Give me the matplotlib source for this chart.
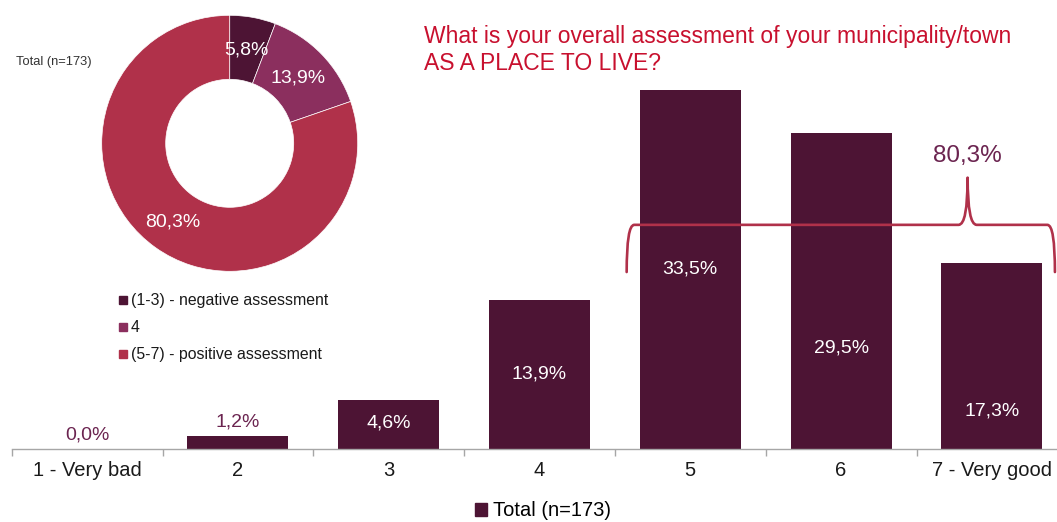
import matplotlib
matplotlib.use("Agg")
import matplotlib.pyplot as plt
from matplotlib.path import Path
from matplotlib.patches import PathPatch, Rectangle

plt.rcParams['font.family'] = ['Liberation Sans', 'DejaVu Sans']

# Distribution of ratings
categories = ['1 - Very bad', '2', '3', '4', '5', '6', '7 - Very good']
shares = [0.0, 1.2, 4.6, 13.9, 33.5, 29.5, 17.3]
# Where each value label sits (fraction of bar height, None = above the bar)
label_frac = [None, None, 0.53, 0.50, 0.50, 0.32, 0.205]

# Grouped assessment for the donut
groups = ['(1-3) - negative assessment', '4', '(5-7) - positive assessment']
group_shares = [5.8, 13.9, 80.3]
positive_total = 80.3

dark = '#4D1434'
mid = '#8B2F5E'
red = '#B0314A'
title_red = '#C8102E'
label_maroon = '#6B2450'

fig = plt.figure(figsize=(10.57, 5.22), dpi=100)
W, H = 1057, 522

# ---- Bar chart ----
step = 150.8
ax = fig.add_axes([11.7 / W, 73 / H, 7 * step / W, 429 / H])
x = list(range(len(categories)))
ax.bar(x, shares, width=0.67, color=dark, edgecolor='none')
ax.set_xlim(-0.5, 6.5)
ax.set_ylim(0, 40)
for s in ['top', 'right', 'left']:
    ax.spines[s].set_visible(False)
ax.spines['bottom'].set_color('#A6A6A6')
ax.spines['bottom'].set_linewidth(1.0)
ax.set_yticks([])
ax.set_xticks(x)
ax.set_xticklabels(categories, fontsize=14.5, color='#1A1A1A')
ax.tick_params(axis='x', which='major', length=0, pad=9)
ax.set_xticks([i - 0.5 for i in range(len(categories) + 1)], minor=True)
ax.tick_params(axis='x', which='minor', length=5, color='#A6A6A6', width=1.0)

def pct(v):
    return f"{v:.1f}%".replace('.', ',')

for xi, v, fr in zip(x, shares, label_frac):
    if fr is None:
        ax.text(xi, v + 0.5, pct(v), ha='center', va='bottom', fontsize=14, color=label_maroon)
    else:
        ax.text(xi, v * fr, pct(v), ha='center', va='center', fontsize=14, color='white')

# Brace spanning the positive ratings (5-7)
bx0, bx1, bpk = 3.578, 6.418, 5.839
yb, yh, yp = 16.5, 20.9, 25.3
verts = [
    (bx0, yb), (bx0, yh), (bx0 + 0.05, yh),
    (bpk - 0.06, yh), (bpk, yh), (bpk, yp),
    (bpk, yh), (bpk + 0.06, yh),
    (bx1 - 0.05, yh), (bx1, yh), (bx1, yb),
]
codes = [
    Path.MOVETO, Path.CURVE3, Path.CURVE3,
    Path.LINETO, Path.CURVE3, Path.CURVE3,
    Path.CURVE3, Path.CURVE3,
    Path.LINETO, Path.CURVE3, Path.CURVE3,
]
ax.add_patch(PathPatch(Path(verts, codes), facecolor='none', edgecolor=red, lw=1.9,
                       clip_on=False, capstyle='round', joinstyle='round'))
ax.text(bpk, 27.3, pct(positive_total), ha='center', va='center',
        fontsize=17.5, color=label_maroon)

# Bottom legend
fig.legend(handles=[Rectangle((0, 0), 1, 1, color=dark)], labels=['Total (n=173)'],
           loc='center', bbox_to_anchor=(543 / W, 1 - 511 / H), frameon=False,
           fontsize=14.5, handlelength=0.6, handleheight=0.6, handletextpad=0.3)

# Title
fig.text(424 / W, 1 - 36 / H, 'What is your overall assessment of your municipality/town',
         fontsize=16.5, color=title_red, ha='left', va='center')
fig.text(424 / W, 1 - 63 / H, 'AS A PLACE TO LIVE?',
         fontsize=16.5, color=title_red, ha='left', va='center')

# ---- Donut ----
cx, cy, r = 229.7, 143.3, 128
axd = fig.add_axes([(cx - r) / W, 1 - (cy + r) / H, 2 * r / W, 2 * r / H])
axd.pie(group_shares, colors=[dark, mid, red], startangle=90, counterclock=False,
        radius=1.0, wedgeprops=dict(width=0.5, edgecolor='white', linewidth=0.5))
axd.set_xlim(-1, 1)
axd.set_ylim(-1, 1)
axd.set_aspect('equal')
donut_label_pos = [(246, 50), (298, 78), (173, 222)]
for (px, py), v in zip(donut_label_pos, group_shares):
    fig.text(px / W, 1 - py / H, pct(v), ha='center', va='center',
             fontsize=14, color='white')

fig.text(16 / W, 1 - 62 / H, 'Total (n=173)', fontsize=9.3, color='#333333', ha='left', va='center')

# Donut legend
leg_y = [300, 327, 354]
for yy, lab, col in zip(leg_y, groups, [dark, mid, red]):
    fig.patches.append(Rectangle((119 / W, 1 - (yy + 4) / H), 8 / W, 8 / H, color=col,
                                 transform=fig.transFigure, figure=fig))
    fig.text(131 / W, 1 - yy / H, lab, fontsize=11.4, color='#1A1A1A', ha='left', va='center')

fig.savefig('out.png', dpi=100)
